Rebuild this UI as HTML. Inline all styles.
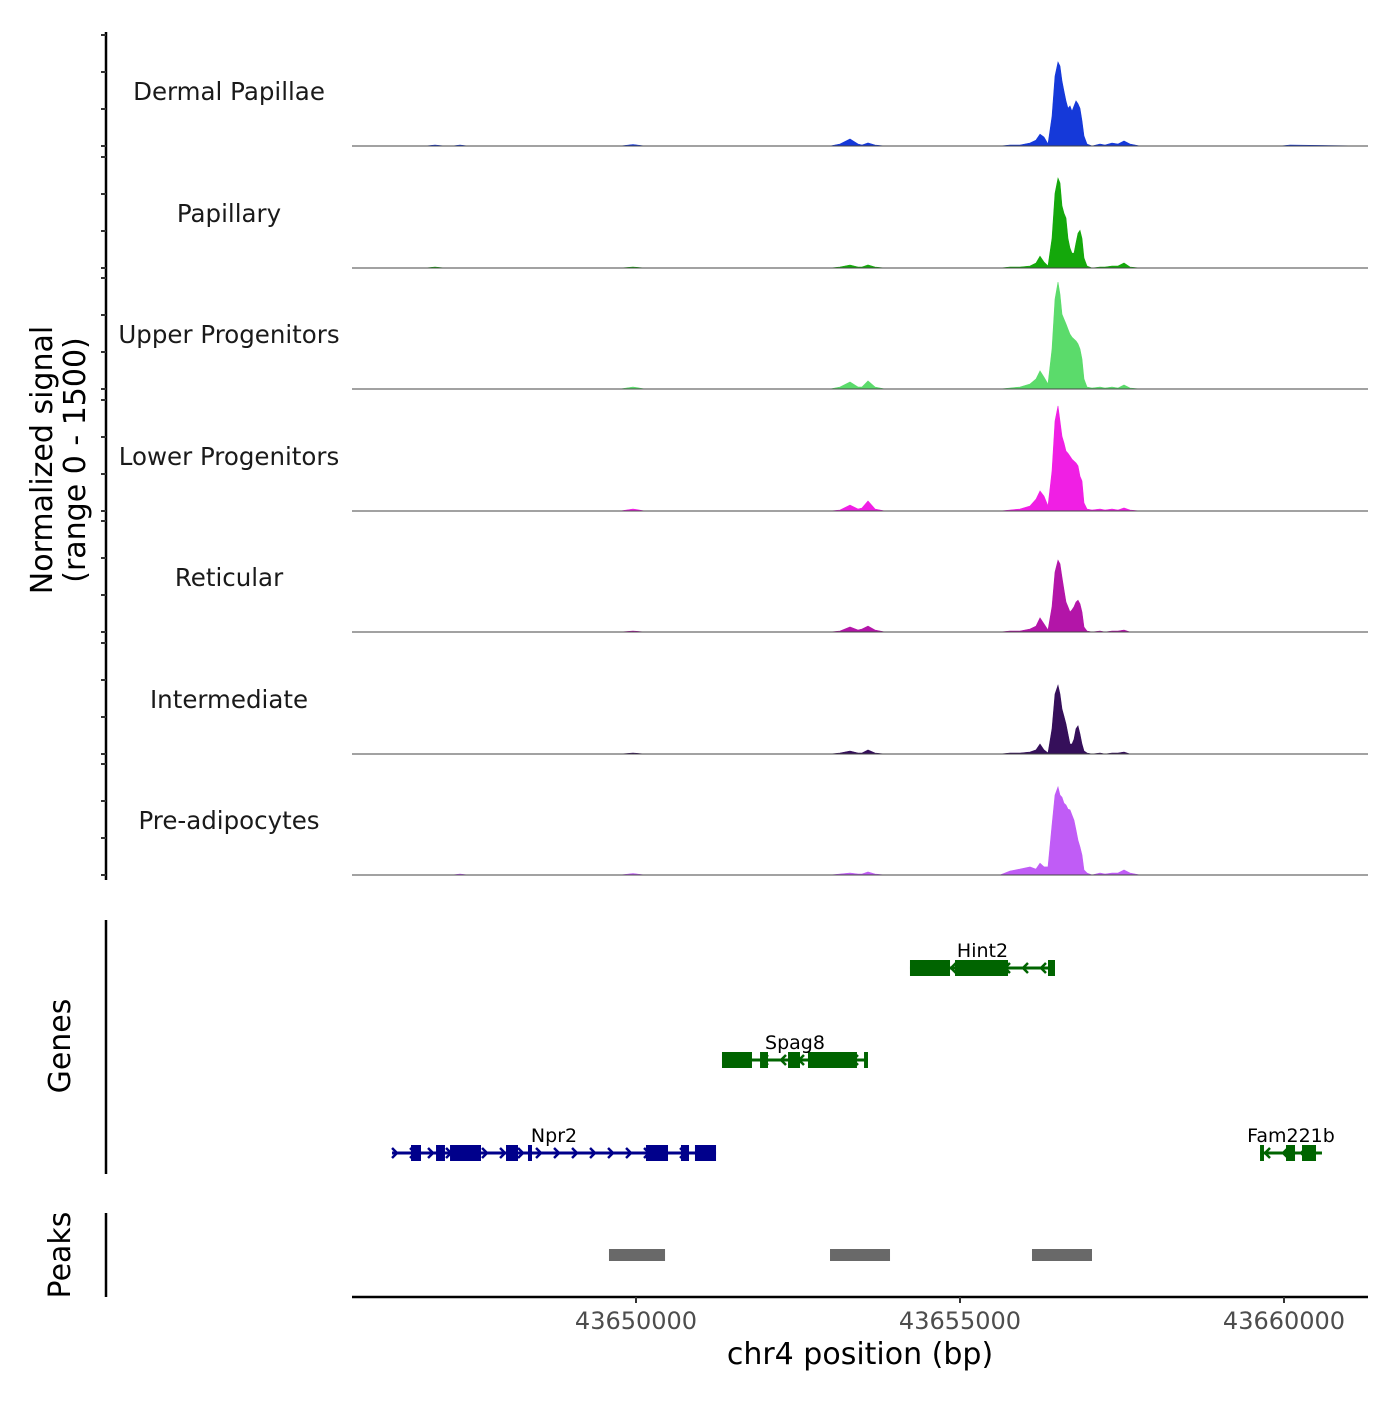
<!DOCTYPE html>
<html><head><meta charset="utf-8"><style>
html,body{margin:0;padding:0;background:#fff;}
svg text{font-family:"DejaVu Sans","Liberation Sans",sans-serif;}
</style></head><body>
<svg id="chart" width="1400" height="1400" viewBox="0 0 1400 1400" xmlns="http://www.w3.org/2000/svg"></svg>
<script>
const BASE = 43650000;
const trackNames = ["Dermal Papillae","Papillary","Upper Progenitors","Lower Progenitors","Reticular","Intermediate","Pre-adipocytes"];
const trackColors = ["#1539d9","#14a80b","#5bdb6b","#f01fe4","#b315a8","#350f5a","#c05cf6"];
const positions = [-4383,-3256,-3102,-2948,-2840,-2716,-2593,-247,-46,139,2994,3148,3302,3426,3488,3580,3688,3843,5617,5772,5926,6080,6173,6235,6296,6358,6420,6466,6512,6543,6574,6605,6636,6667,6698,6728,6759,6790,6821,6852,6883,6914,6960,7037,7160,7238,7346,7438,7531,7623,7778,9938,10093,11296];
const dermal = [0,0,14,0,0,14,0,0,20,0,0,27,95,27,14,40,14,0,0,14,14,40,80,160,120,27,400,945,1135,1080,880,740,610,510,540,470,540,610,570,510,340,135,27,0,27,14,40,27,68,27,0,0,14,0];
const papillary = [0,0,14,0,0,0,0,0,14,0,0,14,40,14,14,40,14,0,0,14,14,27,68,160,80,27,400,1010,1215,1150,840,740,675,400,270,200,200,340,470,510,400,135,27,0,14,14,27,27,68,14,0,0,0,0];
const upper = [0,0,0,0,0,0,0,0,27,0,0,27,95,27,27,110,27,0,0,14,27,68,135,245,160,68,540,1215,1445,1280,1010,945,880,810,740,700,675,650,610,540,405,135,27,14,27,14,27,14,54,14,0,0,0,0];
const lower = [0,0,0,0,0,0,0,0,27,0,0,14,80,27,40,135,27,0,0,14,27,68,160,270,200,68,540,1215,1420,1215,1010,920,810,780,740,700,675,650,610,470,405,110,27,14,27,14,27,14,40,14,0,0,0,0];
const reticular = [0,0,0,0,0,0,0,0,14,0,0,14,68,27,40,80,27,0,0,14,14,40,80,190,110,27,340,810,970,920,740,570,405,340,270,300,340,405,430,380,270,68,14,0,14,0,14,14,27,0,0,0,0,0];
const intermediate = [0,0,0,0,0,0,0,0,14,0,0,14,40,14,14,55,14,0,0,14,14,27,55,135,55,14,340,810,930,810,610,510,405,270,135,135,200,340,380,270,135,40,14,0,14,0,14,14,27,0,0,0,0,0];
const preadipo = [0,0,0,0,0,14,0,0,20,0,0,14,27,14,14,40,14,0,0,54,80,110,80,160,110,110,675,1080,1190,1080,1050,970,945,890,880,810,740,610,470,380,270,68,27,0,27,14,27,27,68,27,0,0,0,0];
const trackValues = [dermal,papillary,upper,lower,reticular,intermediate,preadipo];
const xTicks = [43650000,43655000,43660000];
const peaks = [[-417,448],[2994,3920],[6111,7037]];
const genes = [
 {name:"Hint2",row:0,strand:-1,color:"#006400",start:4228,end:6466,exons:[[4228,4846],[4923,5741],[6358,6466]]},
 {name:"Spag8",row:1,strand:-1,color:"#006400",start:1327,end:3580,exons:[[1327,1790],[1914,2037],[2346,2531],[2654,3410],[3519,3580]]},
 {name:"Npr2",row:2,strand:1,color:"#00008b",start:-3765,end:1235,exons:[[-3472,-3318],[-3086,-2948],[-2870,-2392],[-2006,-1821],[-1667,-1605],[154,494],[694,818],[910,1235]]},
 {name:"Fam221b",row:2,strand:-1,color:"#006400",start:9630,end:10586,exons:[[9630,9691],[10031,10170],[10278,10494]]}
];
const NS="http://www.w3.org/2000/svg";
const svg=document.getElementById('chart');
function el(t,a,p){const e=document.createElementNS(NS,t);for(const k in a)e.setAttribute(k,a[k]);(p||svg).appendChild(e);return e;}
const X0=352,X1=1368;
function xs(off){return 636+off*0.0648;}
const yMax=1500, trackH=111, trackBottoms=[146,268,389,511,632,754,875];
function ys(v,i){return trackBottoms[i]-v/yMax*trackH;}

let ax=el('line',{x1:106,y1:32,x2:106,y2:880,stroke:'#000','stroke-width':2.5});

trackNames.forEach((n,i)=>{
  [0,500,1000,1500].forEach(v=>{
    const t=el('line',{x1:101,x2:106,y1:ys(v,i),y2:ys(v,i),stroke:'#333','stroke-width':2});
    
  });
  const vals=trackValues[i];
  let d='M'+xs(positions[0])+','+ys(0,i);
  positions.forEach((p,j)=>{d+=' L'+xs(p).toFixed(1)+','+ys(vals[j],i).toFixed(1);});
  d+=' L'+xs(positions[positions.length-1])+','+ys(0,i)+' Z';
  const a=el('path',{d:d,fill:trackColors[i],stroke:trackColors[i],'stroke-width':0.6});
  
  const b=el('line',{x1:X0,x2:X1,y1:trackBottoms[i],y2:trackBottoms[i],stroke:'#444','stroke-width':1});
  
  const l=el('text',{x:229,y:trackBottoms[i]-46,'text-anchor':'middle','font-size':24.5,fill:'#1a1a1a'});
  l.textContent=n;
});
const yt=el('text',{transform:'translate(52,460) rotate(-90)','text-anchor':'middle','font-size':30,fill:'#000'});

const t1=el('tspan',{x:0,dy:0},yt);t1.textContent='Normalized signal';
const t2=el('tspan',{x:0,dy:33},yt);t2.textContent='(range 0 - 1500)';

let ga=el('line',{x1:106,y1:920,x2:106,y2:1174,stroke:'#000','stroke-width':2.5});

let gt=el('text',{transform:'translate(70,1046) rotate(-90)','text-anchor':'middle','font-size':30});
gt.textContent='Genes';
const rowY=[968,1060,1153];
genes.forEach(g=>{
  const y=rowY[g.row];
  const grp=el('g',{});
  
  el('line',{x1:xs(g.start),x2:xs(g.end),y1:y,y2:y,stroke:g.color,'stroke-width':3},grp);
  for(let x=xs(g.start)+5;x<xs(g.end)-3;x+=18){
    const dx=g.strand*5;
    el('polyline',{points:`${x-dx},${y-5} ${x},${y} ${x-dx},${y+5}`,fill:'none',stroke:g.color,'stroke-width':2.5},grp);
  }
  g.exons.forEach(e=>{el('rect',{x:xs(e[0]),y:y-8,width:Math.max(3,xs(e[1])-xs(e[0])),height:16,fill:g.color},grp);});
  const lb=el('text',{x:(xs(g.start)+xs(g.end))/2,y:y-11,'text-anchor':'middle','font-size':19,fill:'#000'},grp);
  lb.textContent=g.name;
});
let pa=el('line',{x1:106,y1:1213,x2:106,y2:1297,stroke:'#000','stroke-width':2.5});

let pt=el('text',{transform:'translate(70,1255) rotate(-90)','text-anchor':'middle','font-size':30});
pt.textContent='Peaks';
peaks.forEach(p=>{
  const r=el('rect',{x:xs(p[0]),y:1249,width:xs(p[1])-xs(p[0]),height:12,fill:'#696969'});
  
});
let xa=el('line',{x1:X0,x2:X1,y1:1297,y2:1297,stroke:'#000','stroke-width':2.5});

xTicks.forEach(v=>{
  const x=xs(v-BASE);
  const t=el('line',{x1:x,x2:x,y1:1297,y2:1303,stroke:'#333','stroke-width':2});
  
  const l=el('text',{x:x,y:1329,'text-anchor':'middle','font-size':24,fill:'#4d4d4d'});
  l.textContent=v;
});
let xt=el('text',{x:860,y:1364,'text-anchor':'middle','font-size':30});
xt.textContent='chr4 position (bp)';
</script>
</body></html>
